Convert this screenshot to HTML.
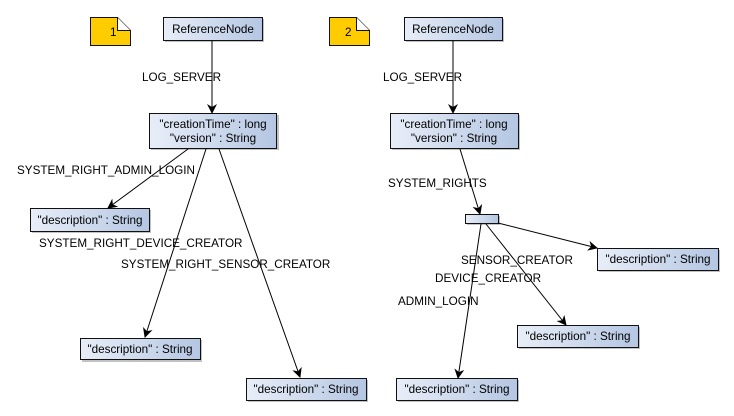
<!DOCTYPE html>
<html><head><meta charset="utf-8"><style>
html,body{margin:0;padding:0;background:#fff;}
svg{display:block;font-family:"Liberation Sans",sans-serif;font-size:11.7px;}
</style></head><body>
<svg width="734" height="416" viewBox="0 0 734 416">
<defs>
<linearGradient id="g" x1="0" y1="0" x2="1" y2="0">
<stop offset="0" stop-color="#e8eef8"/><stop offset="1" stop-color="#b4c6e2"/>
</linearGradient>
<marker id="a" markerWidth="10" markerHeight="10" refX="9" refY="5" orient="auto" markerUnits="userSpaceOnUse">
<path d="M0,0 L10,5 L0,10 L3,5 Z" fill="#000"/>
</marker>
</defs>
<g fill="#999" opacity="0.6">
<rect x="165" y="19" width="99" height="23"/><rect x="151" y="115" width="128" height="35"/>
<rect x="32" y="210" width="119" height="23"/><rect x="82" y="340" width="120" height="22"/><rect x="248" y="380" width="120" height="22"/>
<rect x="406" y="19" width="98" height="23"/><rect x="392" y="115" width="128" height="35"/>
<rect x="467" y="216" width="33" height="9"/><rect x="599" y="250" width="121" height="22"/>
<rect x="519" y="327" width="121" height="22"/><rect x="398" y="380" width="121" height="22"/>
</g>
<g fill="url(#g)" stroke="#111" stroke-width="1">
<rect x="163.5" y="17.5" width="99" height="23"/><rect x="149.5" y="113.5" width="127" height="35"/>
<rect x="30.5" y="208.5" width="119" height="23"/><rect x="80.5" y="338.5" width="120" height="21"/><rect x="246.5" y="378.5" width="120" height="22"/>
<rect x="404.5" y="17.5" width="98" height="23"/><rect x="390.5" y="113.5" width="128" height="35"/>
<rect x="465.5" y="214.5" width="33" height="9"/><rect x="597.5" y="248.5" width="121" height="22"/>
<rect x="517.5" y="325.5" width="121" height="22"/><rect x="396.5" y="378.5" width="121" height="22"/>
</g>
<path d="M90.5,17.5 H117.5 L130.5,30.5 V45.5 H90.5 Z" fill="#ffcc00" stroke="#111"/>
<path d="M117.5,17.5 V30.5 H130.5" fill="#fff" stroke="#111"/>
<path d="M329.5,17.5 H356.5 L369.5,30.5 V45.5 H329.5 Z" fill="#ffcc00" stroke="#111"/>
<path d="M356.5,17.5 V30.5 H369.5" fill="#fff" stroke="#111"/>
<g stroke="#000" stroke-width="1" marker-end="url(#a)">
<line x1="212" y1="41" x2="212" y2="113"/>
<line x1="188" y1="149" x2="108" y2="208"/>
<line x1="206" y1="149" x2="145" y2="337"/>
<line x1="219" y1="149" x2="300" y2="377"/>
<line x1="453" y1="41" x2="453" y2="113"/>
<line x1="460" y1="149" x2="480" y2="214"/>
<line x1="498" y1="223" x2="597" y2="248"/>
<line x1="486" y1="224" x2="566" y2="325"/>
<line x1="481" y1="224" x2="458" y2="378"/>
</g>
<g fill="#000">
<text x="110" y="36">1</text><text x="345" y="36">2</text>
<text x="213" y="33" text-anchor="middle">ReferenceNode</text>
<text x="213" y="128" text-anchor="middle">"creationTime" : long</text>
<text x="213" y="142" text-anchor="middle">"version" : String</text>
<text x="90" y="224" text-anchor="middle">"description" : String</text>
<text x="140" y="353" text-anchor="middle">"description" : String</text>
<text x="306" y="393" text-anchor="middle">"description" : String</text>
<text x="453" y="33" text-anchor="middle">ReferenceNode</text>
<text x="454" y="128" text-anchor="middle">"creationTime" : long</text>
<text x="454" y="142" text-anchor="middle">"version" : String</text>
<text x="658" y="263" text-anchor="middle">"description" : String</text>
<text x="578" y="340" text-anchor="middle">"description" : String</text>
<text x="457" y="393" text-anchor="middle">"description" : String</text>
<text x="142" y="81">LOG_SERVER</text>
<text x="383" y="81">LOG_SERVER</text>
<text x="17" y="174">SYSTEM_RIGHT_ADMIN_LOGIN</text>
<text x="39" y="247">SYSTEM_RIGHT_DEVICE_CREATOR</text>
<text x="121" y="268">SYSTEM_RIGHT_SENSOR_CREATOR</text>
<text x="388" y="187">SYSTEM_RIGHTS</text>
<text x="461" y="264">SENSOR_CREATOR</text>
<text x="435" y="282">DEVICE_CREATOR</text>
<text x="398" y="305">ADMIN_LOGIN</text>
</g>
</svg>
</body></html>
